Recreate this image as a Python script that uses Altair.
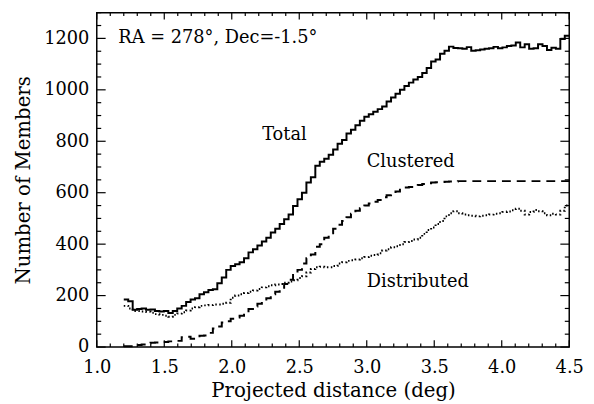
import altair as alt
import pandas as pd

# ---- data ----
BIN_START = 1.2
BIN_WIDTH = 0.033

total = [185, 178, 145, 148, 150, 145, 146, 140, 138, 140,
         132, 140, 150, 160, 175, 185, 190, 205, 213, 222,
         225, 248, 270, 300, 315, 322, 330, 345, 368, 380,
         395, 410, 425, 445, 460, 478, 497, 515, 548, 575,
         600, 640, 660, 705, 720, 732, 748, 768, 790, 805,
         830, 845, 862, 880, 895, 905, 915, 925, 935, 955,
         970, 985, 1000, 1015, 1028, 1040, 1050, 1065, 1085, 1110,
         1118, 1140, 1152, 1168, 1163, 1162, 1160, 1166, 1152, 1154,
         1157, 1160, 1162, 1167, 1162, 1165, 1170, 1172, 1184, 1165,
         1177, 1160, 1162, 1177, 1170, 1155, 1164, 1160, 1198, 1210]

clustered = [3, 3, 8, 8, 10, 15, 17, 18, 20, 20,
             22, 23, 24, 38, 40, 32, 32, 44, 45, 55,
             72, 80, 95, 100, 110, 115, 122, 130, 148, 158,
             168, 178, 190, 205, 215, 230, 245, 262, 280, 300,
             325, 345, 360, 390, 400, 425, 442, 460, 475, 490,
             505, 518, 530, 540, 550, 558, 565, 572, 582, 590,
             598, 605, 612, 620, 622, 626, 630, 634, 637, 640,
             641, 642, 643, 644, 644, 645, 645, 645, 645, 645,
             645, 645, 645, 645, 645, 645, 645, 645, 645, 645,
             645, 645, 645, 645, 645, 645, 645, 645, 645, 645]

distributed = [160, 150, 140, 140, 138, 137, 133, 128, 125, 122,
               118, 125, 130, 135, 142, 150, 155, 160, 162, 163,
               165, 165, 168, 172, 192, 200, 205, 210, 215, 220,
               226, 232, 236, 240, 243, 245, 250, 255, 260, 268,
               275, 290, 303, 310, 312, 310, 310, 315, 325, 330,
               335, 337, 340, 345, 350, 355, 358, 365, 375, 380,
               388, 392, 400, 408, 412, 418, 425, 440, 455, 465,
               478, 490, 508, 520, 528, 520, 515, 512, 510, 508,
               510, 512, 515, 518, 520, 525, 527, 532, 538, 530,
               515, 525, 533, 528, 520, 512, 518, 515, 530, 550]

series_names = ["Total", "Clustered", "Distributed"]

x_major = [1.0, 1.5, 2.0, 2.5, 3.0, 3.5, 4.0, 4.5]
x_minor = [round(1.0 + 0.1 * i, 1) for i in range(36) if i % 5 != 0]
y_major = [0, 200, 400, 600, 800, 1000, 1200]
y_minor = [50 * i for i in range(27) if i % 4 != 0]

ann_text = ["RA = 278°, Dec=-1.5°", "Total", "Clustered", "Distributed"]
ann_x = [1.16, 2.39, 3.0, 3.0]
ann_y = [1200, 823, 721, 254]
ann_align = ["left", "center", "left", "left"]

# ---- build table ----
rows = []
for name, vals in zip(series_names, [total, clustered, distributed]):
    n = len(vals)
    for i, v in enumerate(vals):
        rows.append({"x": BIN_START + BIN_WIDTH * i, "y": v, "series": name, "o": i})
    rows.append({"x": BIN_START + BIN_WIDTH * n, "y": vals[-1], "series": name, "o": n})
df = pd.DataFrame(rows)
ann = pd.DataFrame({"text": ann_text, "x": ann_x, "y": ann_y, "align": ann_align})

W, H = 479, 339
FONT = "DejaVu Serif"
xs = alt.Scale(domain=[1.0, 4.5], nice=False, zero=False, padding=0)
ys = alt.Scale(domain=[0, 1300], nice=False, padding=0)

X_MAJ, X_MIN, Y_MAJ, Y_MIN = 7, 3.5, 9, 4.5

lines = alt.Chart(df).mark_line(interpolate="step-after", color="black").encode(
    x=alt.X("x:Q", scale=xs, axis=alt.Axis(
        orient="bottom", values=x_major, format=".1f", ticks=False, tickSize=0,
        labelFlush=False, domain=False, grid=False, labelFont=FONT, labelFontSize=18,
        labelColor="black", labelPadding=12, title="Projected distance (deg)",
        titleFont=FONT, titleFontSize=20, titleFontWeight="normal", titleColor="black",
        titlePadding=4)),
    y=alt.Y("y:Q", scale=ys, axis=alt.Axis(
        orient="left", values=y_major, format="d", ticks=False, tickSize=0,
        labelFlush=False, domain=False, grid=False, labelFont=FONT, labelFontSize=18,
        labelColor="black", labelPadding=8, title="Number of Members", titleFont=FONT,
        titleFontSize=20, titleFontWeight="normal", titleColor="black", titlePadding=10)),
    detail="series:N",
    order="o:Q",
    strokeDash=alt.StrokeDash("series:N", scale=alt.Scale(
        domain=series_names, range=[[1, 0], [9, 6], [1.5, 2.5]]), legend=None),
    strokeWidth=alt.StrokeWidth("series:N", scale=alt.Scale(
        domain=series_names, range=[2, 2, 1.6]), legend=None),
)


def xticks(vals, p0, p1):
    return alt.Chart(pd.DataFrame({"v": vals})).mark_rule(color="black", strokeWidth=1.2).encode(
        x=alt.X("v:Q", scale=xs, axis=None), y=alt.value(p0), y2=alt.value(p1))


def yticks(vals, p0, p1):
    return alt.Chart(pd.DataFrame({"v": vals})).mark_rule(color="black", strokeWidth=1.2).encode(
        y=alt.Y("v:Q", scale=ys, axis=None), x=alt.value(p0), x2=alt.value(p1))


tick_layers = [
    xticks(x_major, H, H - X_MAJ), xticks(x_minor, H, H - X_MIN),
    xticks(x_major, 0, X_MAJ), xticks(x_minor, 0, X_MIN),
    yticks(y_major, 0, Y_MAJ), yticks(y_minor, 0, Y_MIN),
    yticks(y_major, W, W - Y_MAJ), yticks(y_minor, W, W - Y_MIN),
]


def text_layer(align):
    return alt.Chart(ann).transform_filter(
        alt.datum.align == align
    ).mark_text(font=FONT, fontSize=18, color="black", baseline="middle", align=align).encode(
        x=alt.X("x:Q", scale=xs, axis=None),
        y=alt.Y("y:Q", scale=ys, axis=None),
        text="text:N",
    )


chart = alt.layer(lines, *tick_layers, text_layer("left"), text_layer("center")).resolve_axis(
    x="independent", y="independent"
).properties(
    width=W, height=H,
    autosize=alt.AutoSizeParams(type="none"),
    padding={"left": 90, "top": 2, "right": 17, "bottom": 53},
    background="white",
).configure_view(stroke="black", strokeWidth=1.5)

chart.save("out.html", embed_options={"renderer": "svg", "actions": False})
